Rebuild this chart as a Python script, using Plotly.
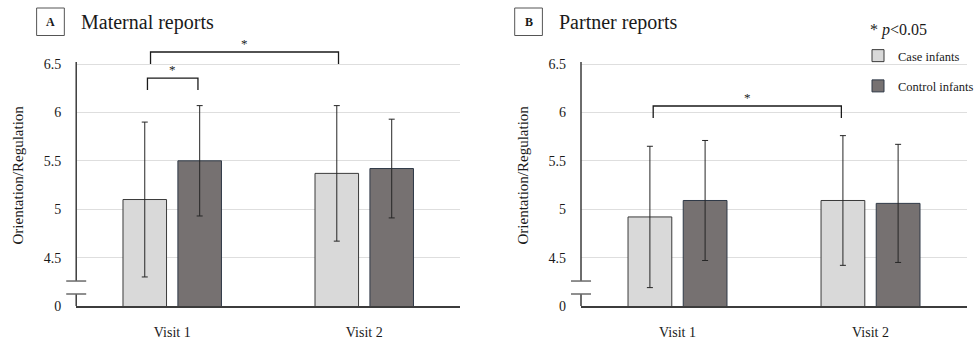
import plotly.graph_objects as go

# ---------------- data ----------------
visits = ["Visit 1", "Visit 2"]

maternal_case = [5.10, 5.37]
maternal_case_sd = [0.80, 0.70]
maternal_control = [5.50, 5.42]
maternal_control_sd = [0.57, 0.51]

partner_case = [4.92, 5.09]
partner_case_sd = [0.73, 0.67]
partner_control = [5.09, 5.06]
partner_control_sd = [0.62, 0.61]

# broken axis: the "0" label sits where 4.0 would be
tick_vals = [4.0, 4.5, 5.0, 5.5, 6.0, 6.5]
tick_text = ["0", "4.5", "5", "5.5", "6", "6.5"]

series_names = ["Case infants", "Control infants"]
panel_titles = ["Maternal reports", "Partner reports"]
panel_letters = ["A", "B"]

# ---------------- style ----------------
FONT = "Liberation Serif, Times New Roman, serif"
CASE_FILL = "#d9d9d9"
CASE_LINE = "#3a3a3a"
CTRL_FILL = "#767171"
CTRL_LINE = "#2f3947"
ERR_COLOR = "#262626"
AXIS_COLOR = "#3c3c3c"
GRID_COLOR = "#dedede"

W, H = 979, 341
def px(x):
    return x / W
def py(y):
    return 1 - y / H

ydom = [py(306), py(44.64)]
yrange = [4.0, 6.7]
xdomA = [px(77), px(465)]
xdomB = [px(587), px(977)]

fig = go.Figure()

def add_panel(case, case_sd, ctrl, ctrl_sd, xa, ya, showlegend):
    fig.add_trace(go.Bar(
        x=visits, y=case, name=series_names[0], legendgroup="case",
        showlegend=showlegend, xaxis=xa, yaxis=ya,
        marker=dict(color=CASE_FILL, line=dict(color=CASE_LINE, width=1)),
        error_y=dict(type="data", array=case_sd, visible=True,
                     color=ERR_COLOR, thickness=1, width=3),
    ))
    fig.add_trace(go.Bar(
        x=visits, y=ctrl, name=series_names[1], legendgroup="ctrl",
        showlegend=showlegend, xaxis=xa, yaxis=ya,
        marker=dict(color=CTRL_FILL, line=dict(color=CTRL_LINE, width=1)),
        error_y=dict(type="data", array=ctrl_sd, visible=True,
                     color=ERR_COLOR, thickness=1, width=3),
    ))

add_panel(maternal_case, maternal_case_sd, maternal_control, maternal_control_sd, "x", "y", True)
add_panel(partner_case, partner_case_sd, partner_control, partner_control_sd, "x2", "y2", False)

xaxis_common = dict(
    type="category", range=[-0.5, 1.5], showline=True, linecolor=AXIS_COLOR,
    linewidth=1.5, showgrid=False, ticks="", ticklabelstandoff=12,
    tickfont=dict(family=FONT, size=14, color="#1a1a1a"), fixedrange=True,
)
yaxis_common = dict(
    range=yrange, domain=ydom, tickvals=tick_vals, ticktext=tick_text,
    showline=False, showgrid=True, gridcolor=GRID_COLOR, gridwidth=1,
    zeroline=False, ticks="", ticklabelstandoff=14,
    tickfont=dict(family=FONT, size=14, color="#1a1a1a"),
    title=dict(text="Orientation/Regulation", font=dict(family=FONT, size=15, color="#1a1a1a"),
               standoff=16),
    automargin=False, fixedrange=True,
)

fig.update_layout(
    width=W, height=H, margin=dict(l=0, r=0, t=0, b=0),
    paper_bgcolor="white", plot_bgcolor="white",
    barmode="group", bargap=0.428, bargroupgap=0.207,
    font=dict(family=FONT, color="#1a1a1a"),
    xaxis=dict(domain=xdomA, anchor="y", **xaxis_common),
    yaxis=dict(anchor="x", **yaxis_common),
    xaxis2=dict(domain=xdomB, anchor="y2", **xaxis_common),
    yaxis2=dict(anchor="x2", **yaxis_common),
    legend=dict(x=px(867), y=py(41), xanchor="left", yanchor="top",
                font=dict(family=FONT, size=12.5, color="#1a1a1a"),
                traceorder="grouped", tracegroupgap=11, itemwidth=30,
                bgcolor="rgba(0,0,0,0)", borderwidth=0),
    showlegend=True,
)

shapes = []
annotations = []

# y-axis lines with break marks
for xr, yr in [("x domain", "y"), ("x2 domain", "y2")]:
    shapes.append(dict(type="line", xref=xr, yref=yr, x0=0, x1=0, y0=4.0, y1=4.124,
                       line=dict(color=AXIS_COLOR, width=1.5)))
    shapes.append(dict(type="line", xref=xr, yref=yr, x0=0, x1=0, y0=4.258, y1=6.52,
                       line=dict(color=AXIS_COLOR, width=1.5)))
    for yb in (4.124, 4.258):
        shapes.append(dict(type="line", xref=xr, yref=yr, x0=-0.026, x1=0.026, y0=yb, y1=yb,
                           line=dict(color="#6a6a6a", width=1.5)))

# significance brackets: (xref, yref, x0, x1, y_top, y_leg)
brackets = [
    ("x", "y", -0.113, 0.866, 6.624, 6.50),
    ("x", "y", -0.129, 0.134, 6.355, 6.231),
    ("x2", "y2", -0.126, 0.849, 6.066, 5.942),
]
for xr, yr, x0, x1, yt, yl in brackets:
    shapes.append(dict(type="path", xref=xr, yref=yr,
                       path=f"M {x0},{yl} L {x0},{yt} L {x1},{yt} L {x1},{yl}",
                       line=dict(color="#1a1a1a", width=1.3)))
    annotations.append(dict(xref=xr, yref=yr, x=(x0 + x1) / 2, y=yt, text="*",
                            showarrow=False, yanchor="bottom", yshift=-1,
                            font=dict(family=FONT, size=13, color="#1a1a1a")))

# panel headers
box_x = [(37, 65), (520, 548)]
title_x = [80, 563]
for (bx0, bx1), tx, letter, title in zip(box_x, title_x, panel_letters, panel_titles):
    shapes.append(dict(type="rect", xref="paper", yref="paper",
                       x0=px(bx0), x1=px(bx1), y0=py(35.5), y1=py(8),
                       line=dict(color="#555555", width=1), fillcolor="white"))
    annotations.append(dict(xref="paper", yref="paper", x=px((bx0 + bx1) / 2), y=py(22),
                            text=f"<b>{letter}</b>", showarrow=False,
                            xanchor="center", yanchor="middle",
                            font=dict(family=FONT, size=12, color="#1a1a1a")))
    annotations.append(dict(xref="paper", yref="paper", x=px(tx), y=py(22.5),
                            text=title, showarrow=False, xanchor="left", yanchor="middle",
                            font=dict(family=FONT, size=20, color="#1a1a1a")))

# significance note
annotations.append(dict(xref="paper", yref="paper", x=px(877), y=py(29.5),
                        text="* <i>p</i>&lt;0.05", showarrow=False,
                        xanchor="left", yanchor="middle",
                        font=dict(family=FONT, size=16, color="#1a1a1a")))

fig.update_layout(shapes=shapes, annotations=annotations)

fig.write_html("out.html", config={"displayModeBar": False},
               post_script="document.body.style.margin='0px';document.body.style.overflow='hidden';")
